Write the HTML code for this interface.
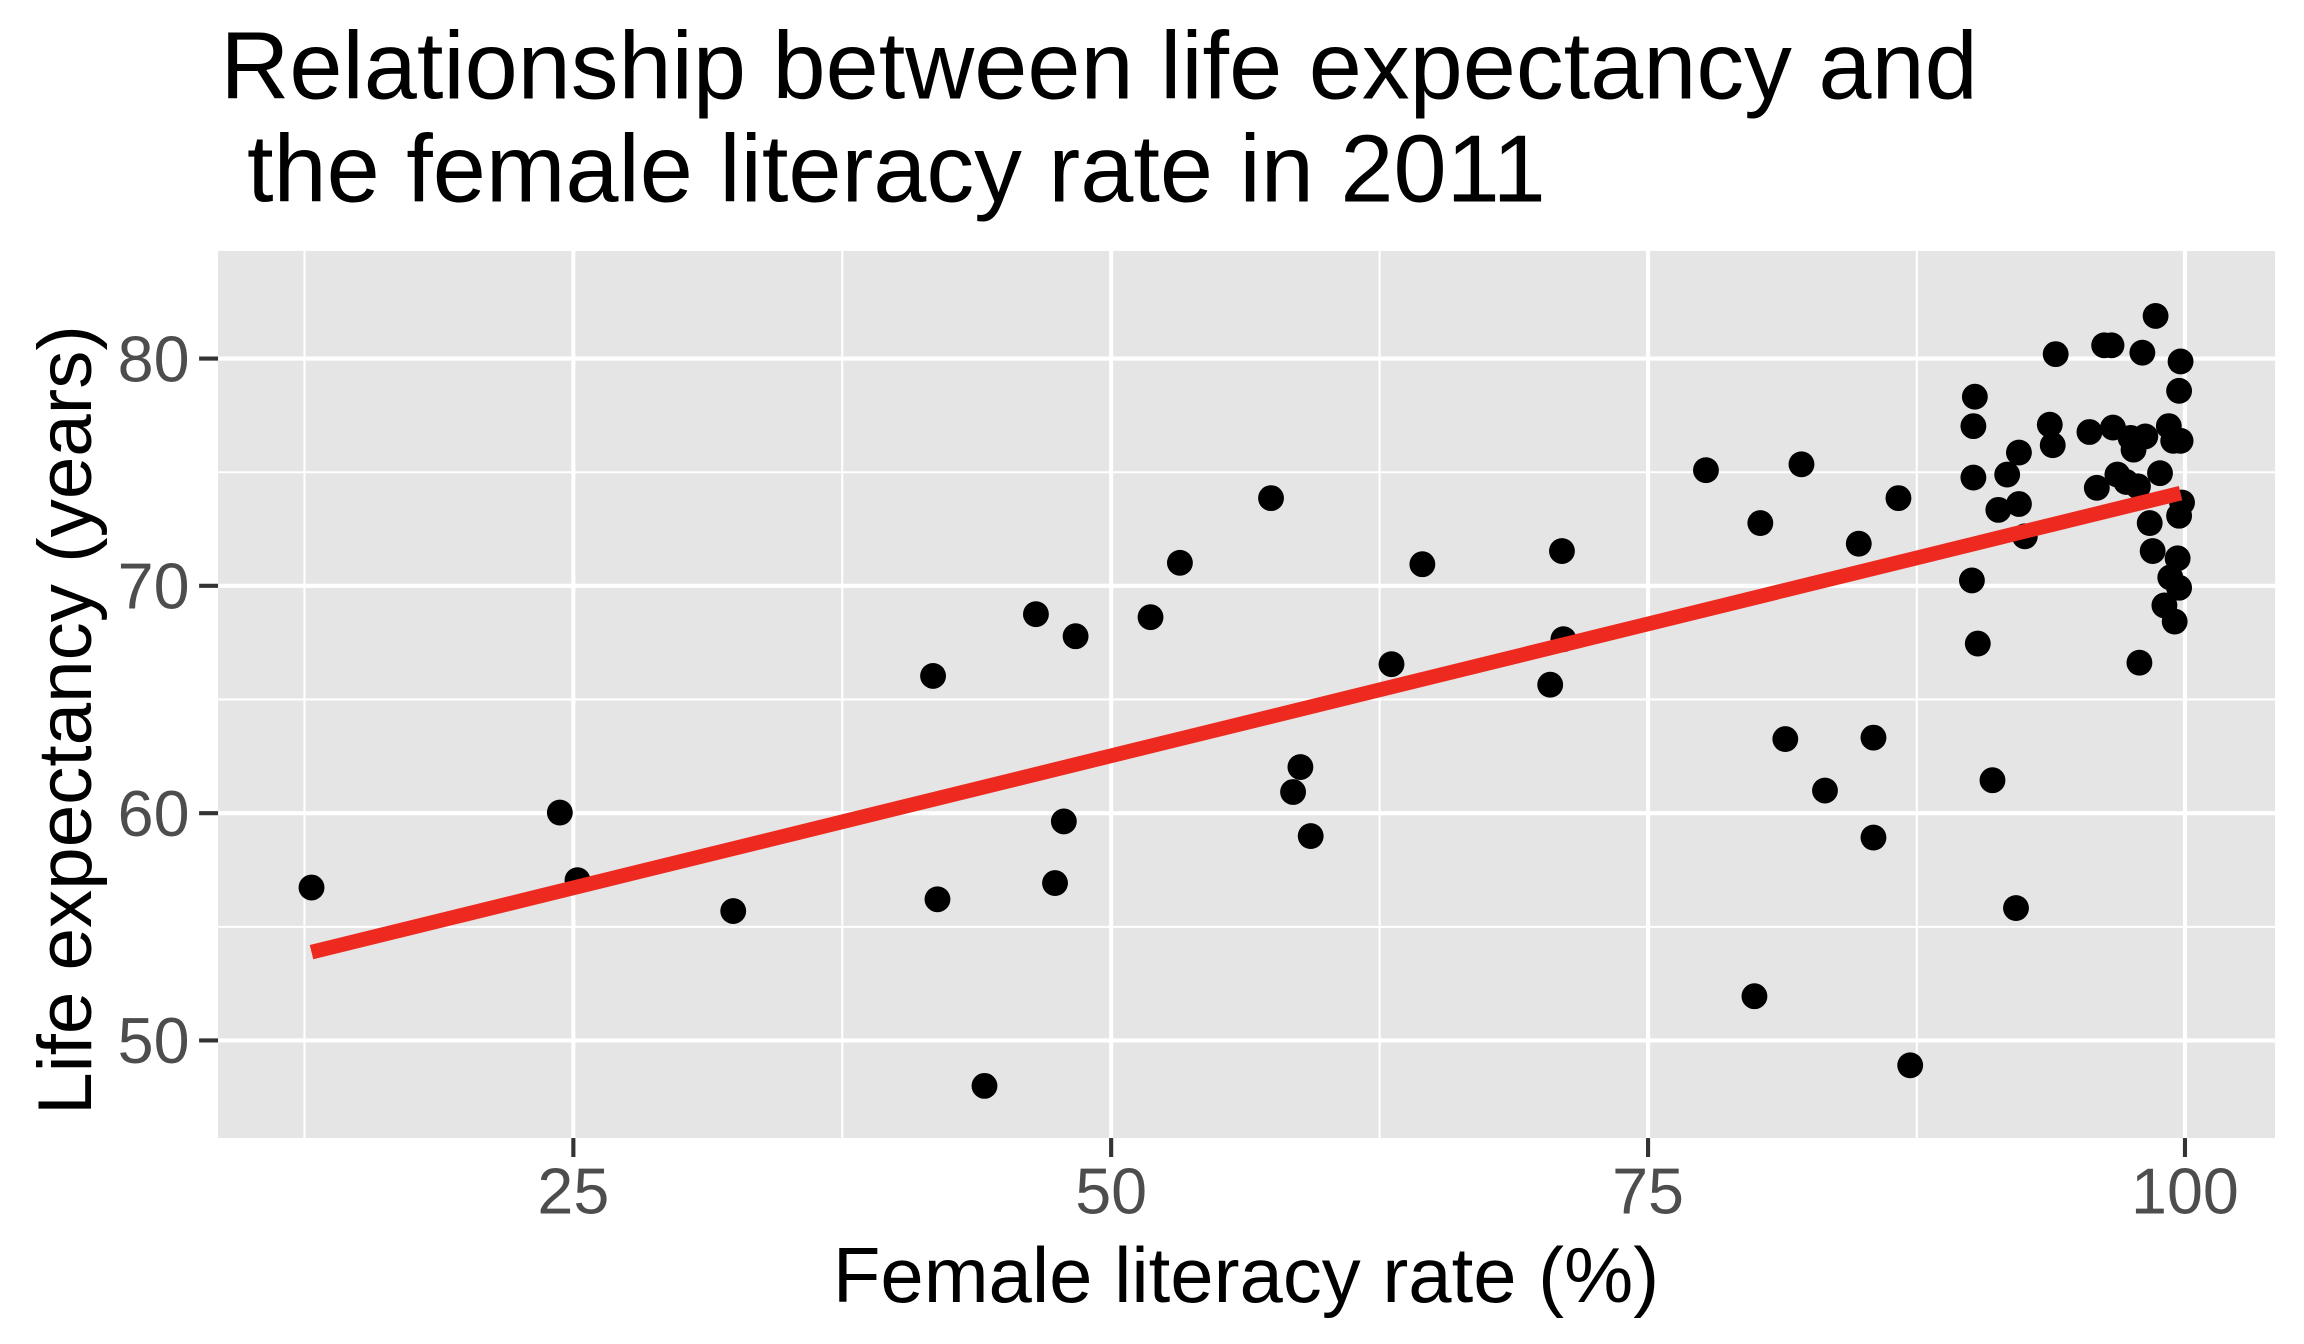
<!DOCTYPE html>
<html><head><meta charset="utf-8"><style>
html,body{margin:0;padding:0;background:#fff;}
svg{display:block;}
text{font-family:"Liberation Sans",Arial,sans-serif;}
</style></head><body>
<svg width="2304" height="1344" viewBox="0 0 1568 914.67" xmlns="http://www.w3.org/2000/svg">
<rect x="0" y="0" width="1568" height="914.67" fill="#fff"/>
<text x="150" y="67" font-size="65" fill="#000">Relationship between life expectancy and</text>
<text x="150" y="137" font-size="65" fill="#000" xml:space="preserve"> the female literacy rate in 2011</text>
<rect x="148.4" y="170.8" width="1399.9" height="603.7" fill="#e5e5e5"/>
<g stroke="#fff" stroke-width="1.4">
<line x1="148.4" x2="1548.3" y1="166.7" y2="166.7"/>
<line x1="148.4" x2="1548.3" y1="321.4" y2="321.4"/>
<line x1="148.4" x2="1548.3" y1="476" y2="476"/>
<line x1="148.4" x2="1548.3" y1="630.8" y2="630.8"/>
<line y1="170.8" y2="774.5" x1="207.2" x2="207.2"/>
<line y1="170.8" y2="774.5" x1="573.2" x2="573.2"/>
<line y1="170.8" y2="774.5" x1="938.9" x2="938.9"/>
<line y1="170.8" y2="774.5" x1="1304.5" x2="1304.5"/>
</g>
<g stroke="#fff" stroke-width="2.8">
<line x1="148.4" x2="1548.3" y1="244" y2="244"/>
<line x1="148.4" x2="1548.3" y1="398.7" y2="398.7"/>
<line x1="148.4" x2="1548.3" y1="553.4" y2="553.4"/>
<line x1="148.4" x2="1548.3" y1="708.1" y2="708.1"/>
<line y1="170.8" y2="774.5" x1="390.2" x2="390.2"/>
<line y1="170.8" y2="774.5" x1="756.2" x2="756.2"/>
<line y1="170.8" y2="774.5" x1="1121.6" x2="1121.6"/>
<line y1="170.8" y2="774.5" x1="1487" x2="1487"/>
</g>
<g fill="#000">
<circle cx="212" cy="604" r="8.8"/><circle cx="381" cy="553" r="8.8"/><circle cx="393" cy="599" r="8.8"/><circle cx="499" cy="620" r="8.8"/>
<circle cx="635" cy="460" r="8.8"/><circle cx="638" cy="612" r="8.8"/><circle cx="670" cy="739" r="8.8"/><circle cx="705" cy="418" r="8.8"/>
<circle cx="718" cy="601" r="8.8"/><circle cx="724" cy="559" r="8.8"/><circle cx="732" cy="433" r="8.8"/><circle cx="783" cy="420" r="8.8"/>
<circle cx="803" cy="383" r="8.8"/><circle cx="865" cy="339" r="8.8"/><circle cx="880" cy="539" r="8.8"/><circle cx="885" cy="522" r="8.8"/>
<circle cx="892" cy="569" r="8.8"/><circle cx="947" cy="452" r="8.8"/><circle cx="968" cy="384" r="8.8"/><circle cx="1055" cy="466" r="8.8"/>
<circle cx="1063" cy="375" r="8.8"/><circle cx="1064" cy="435" r="8.8"/><circle cx="1161" cy="320" r="8.8"/><circle cx="1194" cy="678" r="8.8"/>
<circle cx="1198" cy="356" r="8.8"/><circle cx="1215" cy="503" r="8.8"/><circle cx="1226" cy="316" r="8.8"/><circle cx="1242" cy="538" r="8.8"/>
<circle cx="1265" cy="370" r="8.8"/><circle cx="1275" cy="502" r="8.8"/><circle cx="1275" cy="570" r="8.8"/><circle cx="1292" cy="339" r="8.8"/>
<circle cx="1300" cy="725" r="8.8"/><circle cx="1342" cy="395" r="8.8"/><circle cx="1344" cy="270" r="8.8"/><circle cx="1343" cy="290" r="8.8"/>
<circle cx="1343" cy="325" r="8.8"/><circle cx="1346" cy="438" r="8.8"/><circle cx="1356" cy="531" r="8.8"/>
<circle cx="1360" cy="347" r="8.8"/><circle cx="1366" cy="323" r="8.8"/><circle cx="1372" cy="618" r="8.8"/><circle cx="1374" cy="308" r="8.8"/>
<circle cx="1374" cy="343" r="8.8"/><circle cx="1378" cy="365" r="8.8"/><circle cx="1395" cy="289" r="8.8"/><circle cx="1397" cy="303" r="8.8"/>
<circle cx="1399" cy="241" r="8.8"/><circle cx="1422" cy="294" r="8.8"/><circle cx="1427" cy="332" r="8.8"/><circle cx="1432" cy="235" r="8.8"/>
<circle cx="1437" cy="235" r="8.8"/><circle cx="1438" cy="291" r="8.8"/><circle cx="1441" cy="323" r="8.8"/><circle cx="1447" cy="328" r="8.8"/>
<circle cx="1450" cy="298" r="8.8"/><circle cx="1452" cy="306" r="8.8"/><circle cx="1455" cy="331" r="8.8"/><circle cx="1456" cy="451" r="8.8"/>
<circle cx="1458" cy="240" r="8.8"/><circle cx="1460" cy="297" r="8.8"/><circle cx="1463" cy="356" r="8.8"/><circle cx="1465" cy="375" r="8.8"/>
<circle cx="1467" cy="215" r="8.8"/><circle cx="1470" cy="322" r="8.8"/><circle cx="1473" cy="412" r="8.8"/><circle cx="1476" cy="290" r="8.8"/>
<circle cx="1477" cy="393" r="8.8"/><circle cx="1479" cy="300" r="8.8"/><circle cx="1480" cy="423" r="8.8"/><circle cx="1483" cy="400" r="8.8"/>
<circle cx="1482" cy="380" r="8.8"/><circle cx="1483" cy="351" r="8.8"/><circle cx="1484" cy="246" r="8.8"/><circle cx="1483" cy="266" r="8.8"/>
<circle cx="1484" cy="300" r="8.8"/><circle cx="1485" cy="342" r="8.8"/>
</g>
<line x1="212" y1="648" x2="1484" y2="335.6" stroke="#ee2a20" stroke-width="10"/>
<g stroke="#333" stroke-width="2.8">
<line x1="135.5" x2="148.4" y1="244" y2="244"/>
<line x1="135.5" x2="148.4" y1="398.7" y2="398.7"/>
<line x1="135.5" x2="148.4" y1="553.4" y2="553.4"/>
<line x1="135.5" x2="148.4" y1="708.1" y2="708.1"/>
<line y1="774.5" y2="787.4" x1="390.2" x2="390.2"/>
<line y1="774.5" y2="787.4" x1="756.2" x2="756.2"/>
<line y1="774.5" y2="787.4" x1="1121.6" x2="1121.6"/>
<line y1="774.5" y2="787.4" x1="1487" x2="1487"/>
</g>
<g font-size="44" fill="#4d4d4d" text-anchor="end">
<text x="129" y="259.5">80</text>
<text x="129" y="414.2">70</text>
<text x="129" y="568.9">60</text>
<text x="129" y="723.6">50</text>
</g>
<g font-size="44" fill="#4d4d4d" text-anchor="middle">
<text x="390.2" y="826">25</text>
<text x="756.2" y="826">50</text>
<text x="1121.6" y="826">75</text>
<text x="1487" y="826">100</text>
</g>
<text x="848" y="886" font-size="53" text-anchor="middle" fill="#000">Female literacy rate (%)</text>
<text transform="translate(62,490) rotate(-90)" x="0" y="0" font-size="52" text-anchor="middle" fill="#000">Life expectancy (years)</text>
</svg>
</body></html>
